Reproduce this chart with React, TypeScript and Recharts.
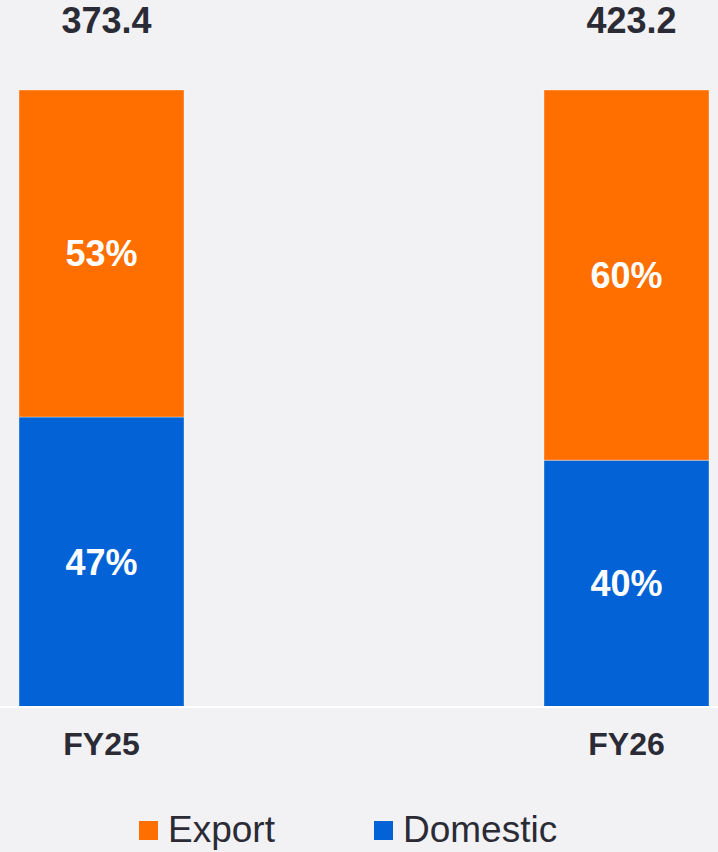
import { Bar, BarChart, LabelList, XAxis, YAxis } from 'recharts'

const categories = ['FY25', 'FY26']
const domesticShare = [47, 40]
const exportShare = [53, 60]
const totals = [373.4, 423.2]

// legend order: Export first
const series = [
  { key: 'export', name: 'Export', color: '#ff6f00' },
  { key: 'domestic', name: 'Domestic', color: '#0363d6' },
]

const FONT = '"Liberation Sans", Arial, sans-serif'
const TEXT = '#2b2b35'

const data = categories.map((category, i) => ({
  category,
  domestic: domesticShare[i],
  export: exportShare[i],
  total: totals[i],
}))

// eslint-disable-next-line @typescript-eslint/no-explicit-any
function TotalLabel(props: any) {
  const { x, y, width, value } = props
  return (
    <text
      x={Number(x) + Number(width) / 2 + 5}
      y={Number(y) - 70}
      textAnchor="middle"
      dominantBaseline="central"
      fill={TEXT}
      style={{ fontFamily: FONT, fontSize: 36, fontWeight: 700 }}
    >
      {value}
    </text>
  )
}

export default function App() {
  return (
    <div
      style={{
        position: 'fixed',
        top: 0,
        left: 0,
        width: 718,
        height: 852,
        background: '#f2f2f5',
        fontFamily: FONT,
        overflow: 'hidden',
      }}
    >
      <BarChart
        width={718}
        height={852}
        data={data}
        margin={{ top: 90, right: -171, left: -161, bottom: 85 }}
        barSize={165}
      >
        <YAxis hide domain={[0, 100]} />
        <XAxis
          dataKey="category"
          height={60}
          tickLine={false}
          tickMargin={19}
          axisLine={{ stroke: '#ffffff', strokeWidth: 2 }}
          tick={{ fontSize: 32, fontWeight: 700, fill: TEXT, fontFamily: FONT }}
        />
        <Bar
          dataKey="domestic"
          name="Domestic"
          stackId="a"
          fill="#0363d6"
          stroke="rgba(255,255,255,0.35)"
          strokeWidth={1}
          isAnimationActive={false}
        >
          <LabelList
            dataKey="domestic"
            position="center"
            formatter={(v: any) => `${v}%`}
            fill="#ffffff"
            style={{ fontSize: 36, fontWeight: 700, fontFamily: FONT }}
          />
        </Bar>
        <Bar
          dataKey="export"
          name="Export"
          stackId="a"
          fill="#ff6f00"
          stroke="rgba(255,255,255,0.35)"
          strokeWidth={1}
          isAnimationActive={false}
        >
          <LabelList
            dataKey="export"
            position="center"
            formatter={(v: any) => `${v}%`}
            fill="#ffffff"
            style={{ fontSize: 36, fontWeight: 700, fontFamily: FONT }}
          />
          <LabelList dataKey="total" content={TotalLabel} />
        </Bar>
      </BarChart>

      {/* legend */}
      <div
        style={{
          position: 'absolute',
          top: 809,
          left: 139,
          display: 'flex',
          alignItems: 'center',
          fontSize: 37,
          color: TEXT,
          whiteSpace: 'nowrap',
        }}
      >
        {series.map((s, i) => (
          <div
            key={s.key}
            style={{ display: 'flex', alignItems: 'center', marginRight: i === 0 ? 99 : 0 }}
          >
            <span
              style={{ display: 'inline-block', width: 19, height: 19, background: s.color, marginRight: 10 }}
            />
            <span>{s.name}</span>
          </div>
        ))}
      </div>
    </div>
  )
}
